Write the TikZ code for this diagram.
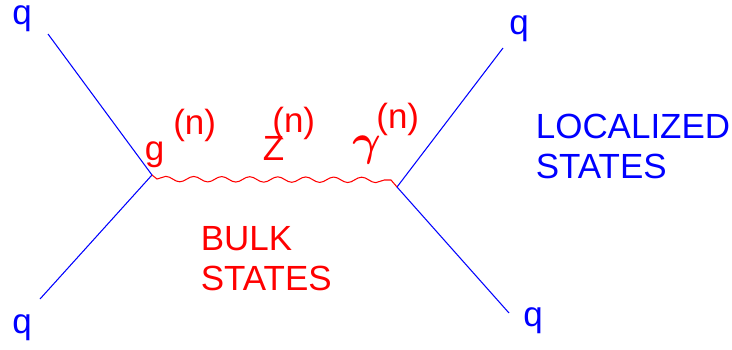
\documentclass[tikz,border=0pt]{standalone}
\usepackage{fontspec}
\setmainfont{Liberation Sans}
\usetikzlibrary{positioning,decorations.pathmorphing}
\definecolor{quark}{RGB}{0,0,255}
\definecolor{kkmode}{RGB}{255,0,0}

\begin{document}
\begin{tikzpicture}[x=0.02cm, y=-0.02cm,
  lbl/.style={inner sep=0pt, anchor=base west, align=left,
    font=\fontsize{19.9}{22.7}\selectfont},
  qlbl/.style={lbl, text=quark},
  kklbl/.style={lbl, text=kkmode},
  leg/.style={quark, line width=0.6pt},
  prop/.style={kkmode, line width=0.6pt,
    decoration={snake, amplitude=0.054cm, segment length=0.56cm}}]

\useasboundingbox (0,0) rectangle (732,349);

% vertices and the free ends of the quark lines
\coordinate (vl) at (152,175);
\coordinate (vr) at (397,187);
\coordinate (w1) at (157,179);
\coordinate (w2) at (391,180);
\coordinate (qa) at (48,34);
\coordinate (qb) at (40,299);
\coordinate (qc) at (503,48);
\coordinate (qd) at (509,313);

\draw[leg] (qa) -- (vl) -- (qb);
\draw[leg] (qc) -- (vr) -- (qd);
\draw[prop] (vl) -- (w1) decorate {-- (w2)} -- (vr);

% quark labels
\node[qlbl] (q1) at (12,24) {q};
\node[qlbl] (q2) at (12,333) {q};
\node[qlbl] (q3) at (509,34) {q};
\node[qlbl] (q4) at (523,326) {q};
\node[qlbl] (loc) at (535.5,178) {LOCALIZED\\STATES};

% exchanged KK modes
\node[kklbl] (g) at (144.5,160) {g};
\node[kklbl] (gn) at (173,134) {(n)};
\node[kklbl] (z) at (262.5,160) {Z};
\node[kklbl] (zn) at (272,132) {(n)};
\node[kklbl, font=\fontsize{23}{26}\selectfont\boldmath] (ga) at (352,155) {$\gamma$};
\node[kklbl] (gan) at (376,128) {(n)};
\node[kklbl] (bulk) at (200.5,290) {BULK\\STATES};
\end{tikzpicture}
\end{document}
